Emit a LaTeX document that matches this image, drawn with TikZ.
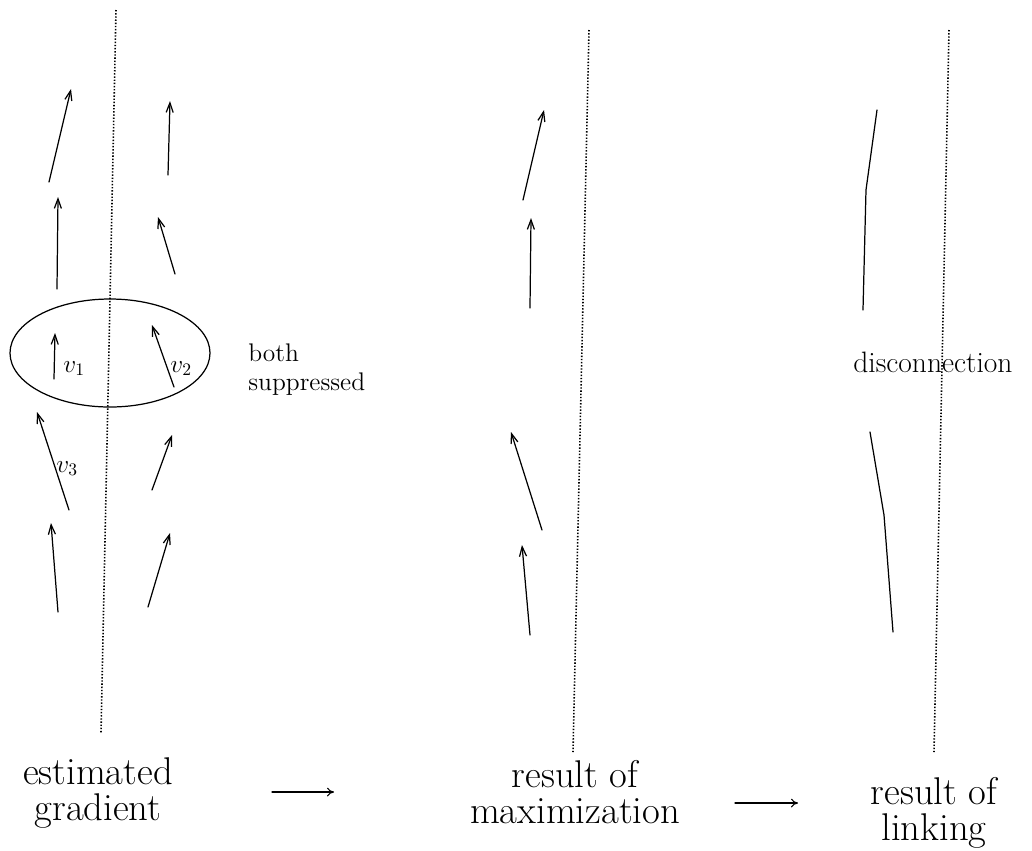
\documentclass[tikz,border=0pt]{standalone}
\usepackage{amsmath}
\usetikzlibrary{arrows.meta}

\begin{document}
\begin{tikzpicture}[line cap=round,line join=round,x=0.02cm,y=-0.02cm,
    vec/.style={line width=0.7pt,-{Straight Barb[length=5.5pt,width=4pt]}},
    trace/.style={line width=0.7pt},
    axis/.style={line width=0.9pt,line cap=butt,dash pattern=on 0.8pt off 1pt},
    flow/.style={line width=0.6pt,-{To[length=4pt,width=5pt]}},
    caption/.style={align=center,inner sep=0pt,font=\fontsize{22}{20}\selectfont},
    remark/.style={align=left,inner sep=0pt,font=\fontsize{14.5}{16.5}\selectfont},
    vlabel/.style={inner sep=0pt,font=\fontsize{14}{16}\selectfont}]
    \useasboundingbox (0,0) rectangle (1032,850);
    % separating lines
    \draw [axis] (116,10) -- (101,733);
    \draw [axis] (589,30) -- (573,752);
    \draw [axis] (949,30) -- (934,752);
    % estimated gradient
    \draw [vec] (49,182) -- (71,89);
    \draw [vec] (57,289) -- (58,197);
    \draw [vec] (54,379) -- (55,333);
    \draw [vec] (69,510) -- (37,412);
    \draw [vec] (58,612) -- (51,523);
    \draw [vec] (168,175) -- (170,101);
    \draw [vec] (175,274) -- (158,217);
    \draw [vec] (174,387) -- (152,325);
    \draw [vec] (152,490) -- (172,435);
    \draw [vec] (148,607) -- (170,533);
    \draw [line width=0.7pt] (110,353) ellipse [x radius=100, y radius=54];
    \node [vlabel,anchor=base west] (lv1) at (63,372) {$v_1$};
    \node [vlabel,anchor=base west] (lv2) at (170,372) {$v_2$};
    \node [vlabel,anchor=base west] (lv3) at (56,472) {$v_3$};
    \node [remark,anchor=base west] (both) at (248,390) {both\\suppressed};
    % result of maximization
    \draw [vec] (523,200) -- (544,110);
    \draw [vec] (530,308) -- (531,218);
    \draw [vec] (542,530) -- (511,432);
    \draw [vec] (530,635) -- (522,545);
    % result of linking
    \draw [trace] (877,110) -- (866,190) -- (863,310);
    \draw [trace] (870,432) -- (884,515) -- (893,632);
    \node [remark,anchor=base west,font=\fontsize{16.8}{18}\selectfont] (gap) at (853,372) {disconnection};
    % captions
    \node [caption,anchor=base] (est) at (98,820) {estimated\\gradient};
    \node [caption,anchor=base] (max) at (575,823) {result of\\maximization};
    \node [caption,anchor=base] (lnk) at (934,840) {result of\\linking};
    \coordinate (f1a) at (272,792);
    \coordinate (f1b) at (334,792);
    \coordinate (f2a) at (735,803);
    \coordinate (f2b) at (798,803);
    \draw [flow] (f1a) -- (f1b);
    \draw [flow] (f2a) -- (f2b);
\end{tikzpicture}
\end{document}
